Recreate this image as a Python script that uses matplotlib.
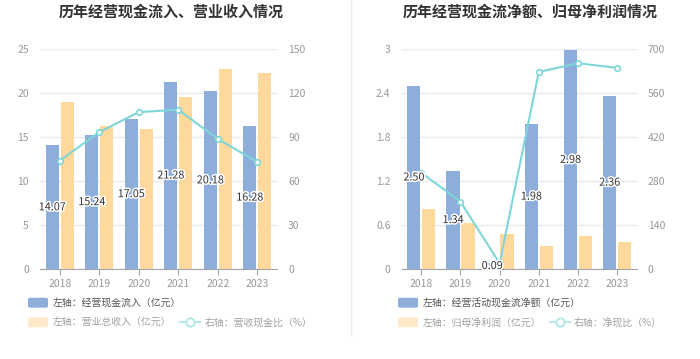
import matplotlib
matplotlib.use("Agg")
import matplotlib.pyplot as plt
import matplotlib.patheffects as pe
from matplotlib.patches import FancyBboxPatch
from matplotlib.lines import Line2D
import numpy as np

plt.rcParams['font.family'] = ['Noto Sans CJK SC', 'DejaVu Sans']

years = ['2018', '2019', '2020', '2021', '2022', '2023']

# Left chart
cash_in = [14.07, 15.24, 17.05, 21.28, 20.18, 16.28]
revenue = [18.95, 16.3, 15.95, 19.55, 22.7, 22.24]
cash_ratio = [74.0, 93.4, 107.0, 108.7, 88.8, 73.1]

# Right chart
net_cash = [2.50, 1.34, 0.09, 1.98, 2.98, 2.36]
net_profit = [0.815, 0.625, 0.475, 0.316, 0.455, 0.369]
net_ratio = [307, 215, 19, 627, 655, 640]

BLUE = '#8DADDB'
ORANGE = '#FFD89B'
LINE = '#7ED6D8'
GRID = '#E6EAF2'
TICK = '#999999'

W, H = 700, 359
fig = plt.figure(figsize=(W / 100, H / 100), dpi=100)


def px_axes(x0, x1, ytop, ybot):
    return fig.add_axes([x0 / W, (H - ybot) / H, (x1 - x0) / W, (ybot - ytop) / H])


def draw_panel(x0, x1, bars1, bars2, line, lmax, lticks, rmax, rticks, fmt):
    ax = px_axes(x0, x1, 49, 269.3)
    x = np.arange(len(years))
    ax.bar(x - 0.19, bars1, width=0.34, color=BLUE, zorder=2)
    ax.bar(x + 0.19, bars2, width=0.34, color=ORANGE, zorder=2)
    ax.set_xlim(-0.5, len(years) - 0.5)
    ax.set_ylim(0, lmax)
    ax.set_yticks(lticks)
    ax.set_yticklabels([fmt(t) for t in lticks])
    ax.set_xticks(x)
    ax.set_xticklabels(years)
    ax.grid(axis='y', color=GRID, linewidth=1, zorder=0)
    for s in ['top', 'right', 'left']:
        ax.spines[s].set_visible(False)
    ax.spines['bottom'].set_color('#A0A4AC')
    ax.tick_params(axis='y', length=0, colors=TICK, labelsize=7.5, pad=8)
    ax.tick_params(axis='x', length=4, color='#A0A4AC', colors=TICK, labelsize=7.5, pad=3)

    ax2 = ax.twinx()
    ax2.set_ylim(0, rmax)
    ax2.set_yticks(rticks)
    ax2.set_yticklabels([str(t) for t in rticks])
    for s in ax2.spines.values():
        s.set_visible(False)
    ax2.tick_params(axis='y', length=0, colors=TICK, labelsize=7.5, pad=8)
    ax2.plot(x, line, color=LINE, linewidth=1.5, marker='o', markersize=4,
             markerfacecolor='white', markeredgecolor=LINE, markeredgewidth=1.2, zorder=3)

    for xi, v in zip(x, bars1):
        ax2.text(xi - 0.19, v / 2 / lmax * rmax, f'{v:.2f}', ha='center', va='center',
                 fontsize=7.8, color='#333333', zorder=5,
                 path_effects=[pe.withStroke(linewidth=2.2, foreground='white')])
    return ax


draw_panel(40, 277, cash_in, revenue, cash_ratio, 25, [0, 5, 10, 15, 20, 25],
           150, [0, 30, 60, 90, 120, 150], lambda t: f'{t:g}')
draw_panel(401.7, 636.7, net_cash, net_profit, net_ratio, 3, [0, 0.6, 1.2, 1.8, 2.4, 3],
           700, [0, 140, 280, 420, 560, 700], lambda t: f'{t:g}')

# Titles
fig.text(171 / W, 1 - 12 / H, '历年经营现金流入、营业收入情况', ha='center', va='center',
         fontsize=10.8, fontweight='bold', color='#333333')
fig.text(530 / W, 1 - 12 / H, '历年经营现金流净额、归母净利润情况', ha='center', va='center',
         fontsize=10.8, fontweight='bold', color='#333333')

# Separator
fig.add_artist(Line2D([351.3 / W, 351.3 / W], [1 - 335 / H, 1.0], color='#EEEEEE', linewidth=1))


def legend_patch(xl, yc, color):
    fig.add_artist(FancyBboxPatch((xl / W, (H - yc - 5) / H), 20 / W, 10 / H,
                                  boxstyle='round,pad=0,rounding_size=0.004',
                                  transform=fig.transFigure, facecolor=color, edgecolor='none'))


def legend_line(xl, yc):
    y = 1 - yc / H
    fig.add_artist(Line2D([xl / W, (xl + 20) / W], [y, y], color='#B8E8EA', linewidth=1.5))
    fig.add_artist(Line2D([(xl + 10) / W], [y], marker='o', markersize=6,
                          markerfacecolor='white', markeredgecolor='#B8E8EA', markeredgewidth=1.5))


# Left legend
legend_patch(28, 302.7, BLUE)
fig.text(53 / W, 1 - 302.7 / H, '左轴：经营现金流入（亿元）', ha='left', va='center', fontsize=7.1, color='#555555')
legend_patch(28, 322.3, '#FFE9C9')
fig.text(53 / W, 1 - 322.3 / H, '左轴：营业总收入（亿元）', ha='left', va='center', fontsize=7.1, color='#A0A0A0')
legend_line(180, 322.3)
fig.text(205 / W, 1 - 322.3 / H, '右轴：营收现金比（%）', ha='left', va='center', fontsize=7.1, color='#A0A0A0')

# Right legend
legend_patch(398, 302.7, BLUE)
fig.text(423 / W, 1 - 302.7 / H, '左轴：经营活动现金流净额（亿元）', ha='left', va='center', fontsize=7.1, color='#555555')
legend_patch(398, 322.3, '#FFE9C9')
fig.text(423 / W, 1 - 322.3 / H, '左轴：归母净利润（亿元）', ha='left', va='center', fontsize=7.1, color='#A0A0A0')
legend_line(550, 322.3)
fig.text(574 / W, 1 - 322.3 / H, '右轴：净现比（%）', ha='left', va='center', fontsize=7.1, color='#A0A0A0')

fig.savefig('out.png', dpi=100)
